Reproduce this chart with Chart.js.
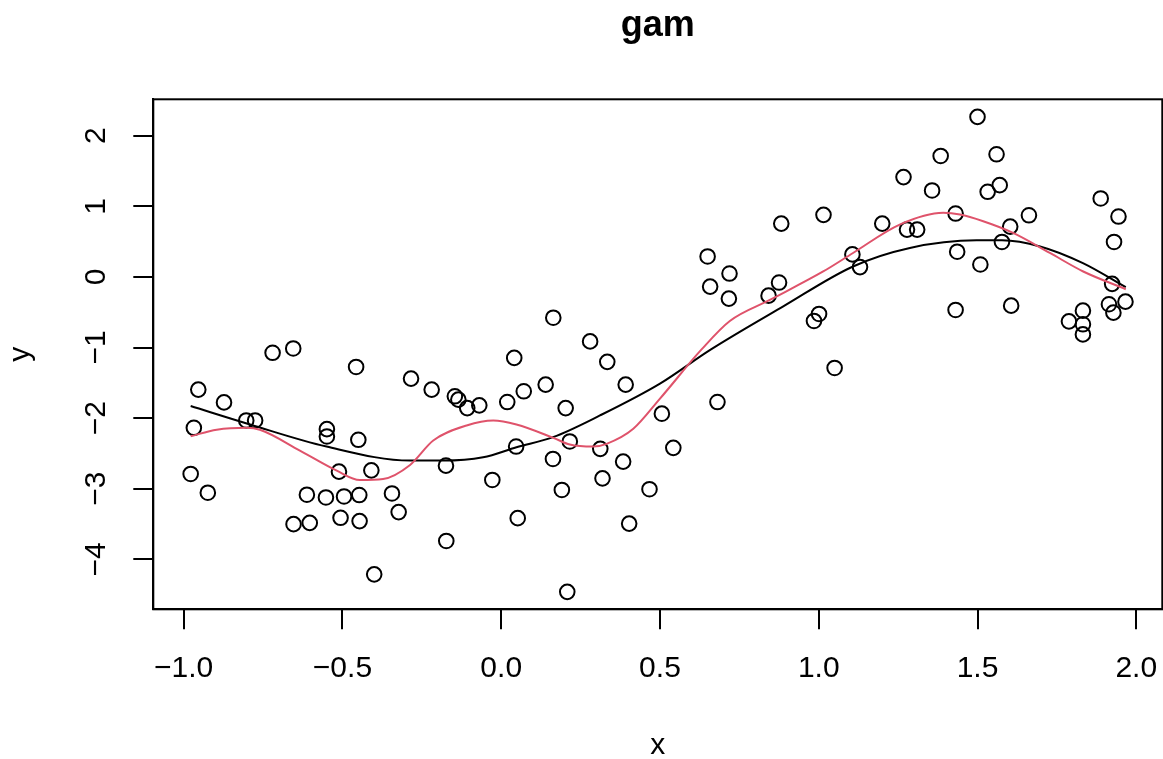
<!DOCTYPE html>
<html>
<head>
<meta charset="utf-8">
<script src="https://cdn.jsdelivr.net/npm/chart.js@4/dist/chart.umd.min.js"></script>
<style>
  html, body { margin: 0; padding: 0; background: #ffffff; }
  #wrap { width: 1163px; height: 759px; }
</style>
</head>
<body>
<div id="wrap"><canvas id="c" width="1163" height="759"></canvas></div>
<script>
// ---- data ----
const pointX = [-0.978,-0.954,-0.968,-0.924,-0.873,-0.803,-0.775,-0.720,-0.655,-0.654,
  -0.612,-0.603,-0.549,-0.549,-0.552,-0.511,-0.495,-0.506,-0.457,-0.450,
  -0.447,-0.446,-0.409,-0.400,-0.344,-0.323,-0.284,-0.219,-0.174,-0.173,
  -0.146,-0.135,-0.107,-0.069,-0.028,0.019,0.041,0.047,0.052,0.071,
  0.140,0.164,0.163,0.191,0.203,0.208,0.216,0.280,0.312,0.319,
  0.334,0.384,0.392,0.403,0.467,0.506,0.542,0.650,0.658,0.681,
  0.719,0.717,0.842,0.875,0.882,0.985,1.001,1.015,1.050,1.106,
  1.130,1.200,1.267,1.278,1.310,1.357,1.384,1.431,1.436,1.431,
  1.500,1.509,1.532,1.560,1.570,1.577,1.603,1.606,1.662,1.788,
  1.832,1.832,1.832,1.888,1.924,1.930,1.914,1.928,1.944,1.966];
const pointY = [-2.791,-1.596,-2.137,-3.057,-1.777,-2.033,-2.033,-1.075,-1.013,-3.502,
  -3.085,-3.484,-2.156,-2.260,-3.124,-2.758,-3.110,-3.412,-1.275,-2.307,
  -3.090,-3.459,-2.740,-4.213,-3.067,-3.331,-1.440,-1.596,-2.673,-3.740,
  -1.691,-1.738,-1.858,-1.819,-2.876,-1.772,-1.147,-2.403,-3.417,-1.620,
  -1.525,-0.578,-2.578,-3.018,-1.858,-4.461,-2.331,-0.913,-2.435,-2.853,
  -1.203,-2.616,-1.525,-3.494,-3.007,-1.937,-2.421,0.290,-0.137,-1.772,
  0.048,-0.307,-0.265,-0.080,0.755,-0.624,-0.525,0.879,-1.289,0.319,
  0.139,0.755,1.414,0.670,0.670,1.225,1.713,0.898,0.357,-0.468,
  2.267,0.176,1.206,1.737,1.300,0.495,0.713,-0.407,0.873,-0.629,
  -0.478,-0.671,-0.814,1.111,-0.098,0.495,-0.387,-0.506,0.855,-0.350];

const gamX = [-0.978,-0.791,-0.550,-0.287,-0.184,-0.057,0.048,0.163,0.311,0.500,
  0.657,0.887,1.108,1.287,1.497,1.577,1.697,1.832,1.967];
const gamY = [-1.829,-2.090,-2.403,-2.602,-2.602,-2.555,-2.413,-2.270,-1.962,-1.511,
  -1.037,-0.421,0.148,0.410,0.518,0.518,0.432,0.196,-0.145];

const smoothX = [-0.978,-0.896,-0.802,-0.760,-0.634,-0.518,-0.445,-0.372,-0.287,-0.214,
  -0.109,-0.025,0.048,0.164,0.216,0.290,0.332,0.416,0.500,0.631,
  0.720,0.846,1.014,1.108,1.255,1.392,1.445,1.518,1.612,1.728,
  1.833,1.967];
const smoothY = [-2.256,-2.165,-2.137,-2.165,-2.460,-2.744,-2.876,-2.862,-2.663,-2.317,
  -2.104,-2.033,-2.090,-2.279,-2.374,-2.403,-2.364,-2.151,-1.724,-1.027,
  -0.624,-0.326,0.077,0.339,0.741,0.908,0.883,0.788,0.623,0.339,
  0.077,-0.174];

const xTickValues = [-1, -0.5, 0, 0.5, 1, 1.5, 2];
const xTickLabels = ['\u22121.0', '\u22120.5', '0.0', '0.5', '1.0', '1.5', '2.0'];
const yTickValues = [-4, -3, -2, -1, 0, 1, 2];
const yTickLabels = ['\u22124', '\u22123', '\u22122', '\u22121', '0', '1', '2'];

const titleText = 'gam';
const xTitle = 'x';
const yTitle = 'y';

// ---- build ----
const FONT = "'Liberation Sans', Arial, Helvetica, sans-serif";
const zip = (xs, ys) => xs.map((x, i) => ({ x: x, y: ys[i] }));

const framePlugin = {
  id: 'frame',
  afterDraw(chart) {
    const a = chart.chartArea, ctx = chart.ctx;
    ctx.save();
    ctx.strokeStyle = '#000';
    ctx.lineWidth = 2;
    ctx.strokeRect(a.left, a.top, a.right - a.left, a.bottom - a.top);
    // main title, centred over the plotting region (as R does)
    ctx.fillStyle = '#000';
    ctx.font = 'bold 36px ' + FONT;
    ctx.textAlign = 'center';
    ctx.textBaseline = 'middle';
    ctx.fillText(titleText, (a.left + a.right) / 2, 26);
    ctx.restore();
  }
};

new Chart(document.getElementById('c'), {
  type: 'scatter',
  data: {
    datasets: [
      { label: 'smooth', data: zip(smoothX, smoothY), showLine: true, borderColor: '#DF536B',
        borderWidth: 2, pointRadius: 0, cubicInterpolationMode: 'monotone', fill: false },
      { label: 'gam', data: zip(gamX, gamY), showLine: true, borderColor: '#000000',
        borderWidth: 2, pointRadius: 0, cubicInterpolationMode: 'monotone', fill: false },
      { label: 'points', data: zip(pointX, pointY), pointRadius: 7.3, pointBorderWidth: 2,
        borderColor: '#000000', backgroundColor: 'rgba(0,0,0,0)', pointBackgroundColor: 'rgba(0,0,0,0)' }
    ]
  },
  options: {
    responsive: false,
    animation: false,
    events: [],
    layout: { autoPadding: false, padding: { left: 0, right: 0.7, top: 99.3, bottom: 0 } },
    plugins: {
      legend: { display: false },
      tooltip: { enabled: false },
      title: { display: false }
    },
    scales: {
      x: {
        type: 'linear', min: -1.0957, max: 2.082,
        afterBuildTicks(s) { s.ticks = xTickValues.map(v => ({ value: v })); },
        afterFit(s) { s.height = 149.7; s.paddingLeft = 0; s.paddingRight = 0; },
        grid: { drawOnChartArea: false, drawTicks: true, tickLength: 20, color: '#000', lineWidth: 2 },
        border: { display: true, color: '#000', width: 2 },
        ticks: { color: '#000', padding: 21, maxRotation: 0, autoSkip: false,
          font: { family: FONT, size: 30 },
          callback(v) { const i = xTickValues.indexOf(v); return i >= 0 ? xTickLabels[i] : ''; } },
        title: { display: true, text: xTitle, color: '#000', font: { family: FONT, size: 30, lineHeight: 0.9 },
          padding: { top: 0, bottom: 0 } }
      },
      y: {
        type: 'linear', min: -4.708, max: 2.516,
        afterBuildTicks(s) { s.ticks = yTickValues.map(v => ({ value: v })); },
        afterFit(s) { s.width = 153.3; s.paddingTop = 0; s.paddingBottom = 0; },
        grid: { drawOnChartArea: false, drawTicks: true, tickLength: 20, color: '#000', lineWidth: 2 },
        border: { display: true, color: '#000', width: 2 },
        ticks: { color: '#000', padding: 19, minRotation: 90, maxRotation: 90, crossAlign: 'center', autoSkip: false,
          font: { family: FONT, size: 30 },
          callback(v) { const i = yTickValues.indexOf(v); return i >= 0 ? yTickLabels[i] : ''; } },
        title: { display: true, text: yTitle, color: '#000', font: { family: FONT, size: 30, lineHeight: 1.0 },
          padding: { top: 6, bottom: 0 } }
      }
    }
  },
  plugins: [framePlugin]
});
</script>
</body>
</html>
